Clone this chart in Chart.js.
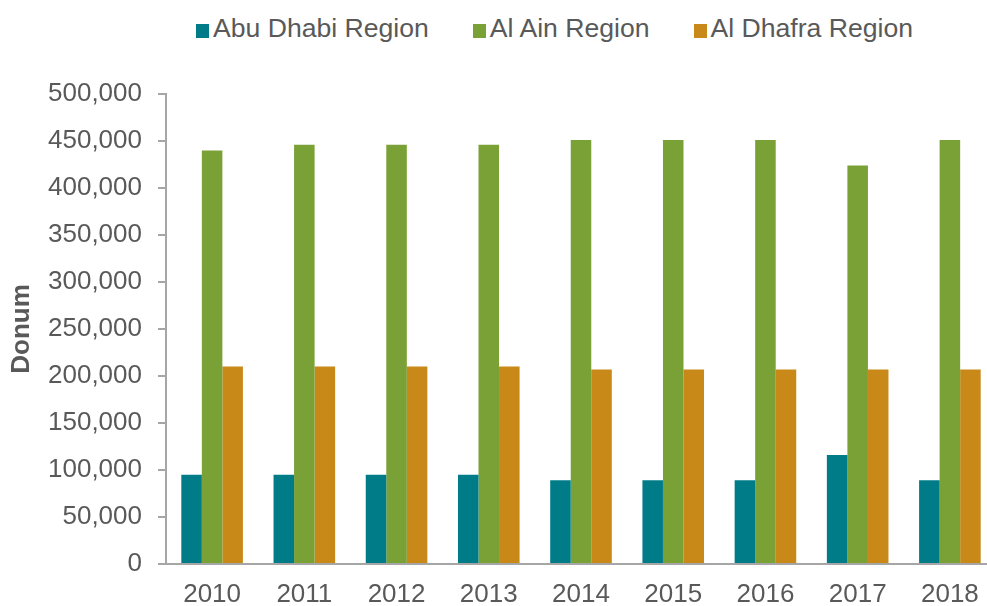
<!DOCTYPE html>
<html>
<head>
<meta charset="utf-8">
<script src="https://cdn.jsdelivr.net/npm/chart.js@4"></script>
<style>
  body { margin: 0; width: 987px; height: 606px; overflow: hidden; background: #fff; }
  #legend { position: absolute; left: 196px; top: 13px; height: 30px; white-space: nowrap;
            font-family: "Liberation Sans", Arial, sans-serif; font-size: 26.6px; color: #595959; line-height: 30px; }
  #legend span.item { display: inline-block; margin-right: 44px; }
  #legend span.box { display: inline-block; width: 13px; height: 14px; margin-right: 4px; vertical-align: -1px; }
  #wrap { position: absolute; left: 0; top: 0; width: 1000px; height: 606px; }
</style>
</head>
<body>
<div id="legend"></div>
<div id="wrap"><canvas id="grafica"></canvas></div>
<script>
var years = ["2010", "2011", "2012", "2013", "2014", "2015", "2016", "2017", "2018"];
var seriesNames = ["Abu Dhabi Region", "Al Ain Region", "Al Dhafra Region"];
var seriesColors = ["#007C89", "#7AA135", "#C88918"];
var abuDhabi = [95000, 95000, 95000, 95000, 89000, 89000, 89000, 116000, 89000];
var alAin = [440000, 446000, 446000, 446000, 451000, 451000, 451000, 424000, 451000];
var alDhafra = [210000, 210000, 210000, 210000, 207000, 207000, 207000, 207000, 207000];
var yTicks = [0, 50000, 100000, 150000, 200000, 250000, 300000, 350000, 400000, 450000, 500000];

var valores = [abuDhabi, alAin, alDhafra];
var gris = "#595959";
var ejeColor = "#a6a6a6";

// leyenda en html
var leyenda = document.getElementById("legend");
for (var i = 0; i < seriesNames.length; i++) {
    var item = document.createElement("span");
    item.className = "item";
    item.innerHTML = '<span class="box" style="background:' + seriesColors[i] + '"></span>' + seriesNames[i];
    leyenda.appendChild(item);
}

var datasets = [];
for (var j = 0; j < seriesNames.length; j++) {
    datasets.push({
        label: seriesNames[j],
        data: valores[j],
        backgroundColor: seriesColors[j],
        borderWidth: 0
    });
}

let ctx = document.getElementById("grafica").getContext("2d");
var chart = new Chart(ctx, {
    type: "bar",
    data: {
        labels: years,
        datasets: datasets
    },
    options: {
        responsive: true,
        maintainAspectRatio: false,
        animation: false,
        layout: { padding: { top: 94, right: 4, left: 0, bottom: 0 } },
        plugins: {
            legend: { display: false },
            tooltip: { enabled: false }
        },
        datasets: {
            bar: { barPercentage: 1, categoryPercentage: 0.668 }
        },
        scales: {
            x: {
                offset: true,
                grid: { display: false, drawTicks: false },
                border: { display: true, color: ejeColor, width: 2 },
                ticks: {
                    color: gris,
                    padding: 15,
                    maxRotation: 0,
                    autoSkip: false,
                    font: { family: "Liberation Sans", size: 26 }
                },
                afterFit: function(scale) { scale.height = 42; }
            },
            y: {
                min: 0,
                max: 500000,
                afterBuildTicks: function(scale) {
                    scale.ticks = yTicks.map(function(v) { return { value: v }; });
                },
                grid: { drawOnChartArea: false, drawTicks: true, tickLength: 8, color: ejeColor, lineWidth: 2 },
                border: { display: true, color: ejeColor, width: 2 },
                ticks: {
                    color: gris,
                    padding: 16,
                    font: { family: "Liberation Sans", size: 26 },
                    callback: function(v) { return Number(v).toLocaleString("en-US"); }
                },
                title: {
                    display: true,
                    text: "Donum",
                    color: gris,
                    padding: { top: 6, bottom: 13 },
                    font: { family: "Liberation Sans", size: 26, weight: "bold" }
                },
                afterFit: function(scale) { scale.width = 166; }
            }
        }
    }
});
</script>
</body>
</html>
